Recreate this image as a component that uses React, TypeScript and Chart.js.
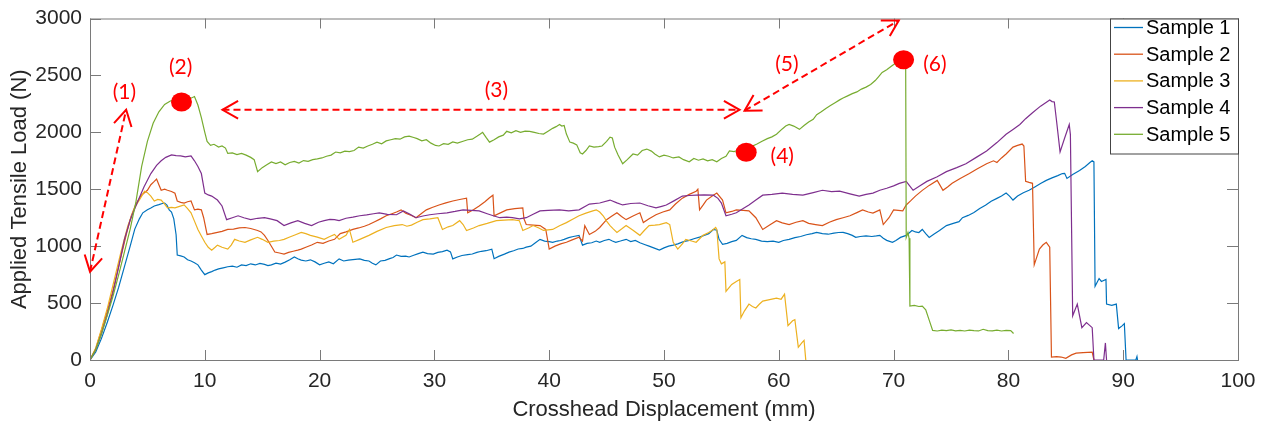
import React, { useEffect, useRef } from "react";
import { Chart, registerables } from "chart.js";

Chart.register(...registerables);

const FONT = "'Liberation Sans', Arial, sans-serif";
const LABEL_FONT = "Lato, 'Open Sans', sans-serif";

const seriesNames = ["Sample 1", "Sample 2", "Sample 3", "Sample 4", "Sample 5"];
const seriesColors = ["#0072BD", "#D95319", "#EDB120", "#7E2F8E", "#77AC30"];

const xTickValues = [0, 10, 20, 30, 40, 50, 60, 70, 80, 90, 100];
const yTickValues = [0, 500, 1000, 1500, 2000, 2500, 3000];

const sample1: number[][] = [
  [0, 0], [0.5, 70], [1, 190], [1.5, 330], [2, 480], [2.5, 640], [3, 820], [3.5, 1000], [3.9, 1150], [4.3, 1240],
  [4.6, 1293], [5, 1320], [5.3, 1335], [5.6, 1353], [6, 1365], [6.3, 1375], [6.5, 1379], [6.7, 1360], [6.9, 1319],
  [7.1, 1300], [7.3, 1240], [7.5, 1100], [7.6, 922], [7.9, 915], [8.2, 905], [8.5, 880], [8.8, 870], [9.1, 855],
  [9.4, 836], [9.7, 790], [10, 750], [10.3, 765], [10.6, 776], [10.9, 790], [11.2, 800], [11.6, 810], [12, 819],
  [12.4, 825], [12.8, 815], [13.2, 835], [13.6, 830], [14, 845], [14.4, 835], [14.8, 848], [15.2, 840], [15.5, 830],
  [15.8, 836], [16.2, 850], [16.6, 842], [17, 860], [17.4, 880], [17.8, 905], [18.1, 890], [18.4, 878], [18.8, 870],
  [19.2, 880], [19.6, 862], [20, 836], [20.4, 850], [20.8, 862], [21.2, 845], [21.7, 888], [22.1, 870], [22.5, 878],
  [22.9, 882], [23.5, 888], [23.9, 875], [24.3, 870], [24.6, 850], [24.9, 836], [25.3, 870], [25.7, 875], [26.1, 890],
  [26.4, 900], [26.7, 922], [27.1, 910], [27.5, 912], [27.8, 905], [28.2, 920], [28.6, 935], [29, 948], [29.4, 935],
  [29.9, 930], [30.3, 945], [30.7, 952], [31.1, 965], [31.4, 950], [31.6, 888], [32, 905], [32.4, 918], [32.9, 925],
  [33.3, 931], [33.7, 945], [34.1, 955], [34.5, 960], [35, 974], [35.2, 890], [35.6, 910], [36.1, 930], [36.5, 948],
  [36.9, 960], [37.3, 975], [37.7, 980], [38, 991], [38.4, 1000], [38.8, 1030], [39.2, 1060], [39.6, 1045], [40, 1040],
  [40.3, 1034], [40.7, 1045], [41, 1050], [41.3, 1060], [41.7, 1075], [42.1, 1085], [42.6, 1095], [42.9, 1009],
  [43.3, 1025], [43.7, 1030], [44.1, 1045], [44.4, 1034], [44.8, 1050], [45.2, 1060], [45.5, 1045], [45.8, 1034],
  [46.2, 1045], [46.7, 1060], [47.1, 1040], [47.5, 1050], [47.9, 1030], [48.3, 1015], [48.7, 1000], [49.1, 985],
  [49.6, 965], [50, 985], [50.4, 1000], [50.8, 1009], [51.2, 1020], [51.7, 1040], [52.2, 1051], [52.6, 1065],
  [53.1, 1080], [53.5, 1095], [53.9, 1110], [54.3, 1147], [54.6, 1140], [54.8, 1060], [55.1, 1017], [55.5, 1025],
  [55.9, 1040], [56.3, 1051], [56.8, 1095], [57.2, 1075], [57.6, 1065], [58, 1060], [58.5, 1045], [59, 1040],
  [59.5, 1045], [60, 1034], [60.4, 1050], [60.9, 1060], [61.4, 1075], [61.9, 1085], [62.4, 1100], [62.9, 1110],
  [63.3, 1121], [63.8, 1110], [64.3, 1105], [64.8, 1115], [65.2, 1120], [65.6, 1121], [66, 1110], [66.4, 1095],
  [66.7, 1078], [67.1, 1085], [67.6, 1090], [68.1, 1085], [68.5, 1090], [68.8, 1095], [69.1, 1070], [69.4, 1051],
  [69.9, 1034], [70.2, 1050], [70.6, 1077], [71.1, 1095], [71.6, 1138], [71.9, 1125], [72.2, 1120], [72.5, 1147],
  [72.8, 1110], [73.1, 1077], [73.5, 1105], [74, 1138], [74.6, 1181], [75.2, 1200], [75.7, 1215], [76, 1250],
  [76.5, 1270], [77, 1295], [77.5, 1330], [78, 1360], [78.5, 1395], [79, 1420], [79.4, 1440], [79.8, 1466],
  [80.1, 1440], [80.4, 1405], [80.8, 1440], [81.3, 1470], [81.8, 1491], [82.3, 1520], [82.8, 1550], [83.3, 1578],
  [83.8, 1600], [84.3, 1620], [84.7, 1638], [84.9, 1640], [85.1, 1595], [85.6, 1630], [86.2, 1664], [86.7, 1700],
  [87.1, 1735], [87.3, 1750], [87.45, 1740], [87.55, 647], [87.9, 716], [88.1, 690], [88.5, 707], [88.55, 491],
  [89, 480], [89.4, 491], [89.6, 276], [89.9, 300], [90.1, 319], [90.25, 0], [91.1, 0], [91.2, 30], [91.25, 0],
];

const sample2: number[][] = [
  [0, 0], [0.5, 100], [1, 260], [1.5, 430], [2, 610], [2.4, 780], [2.8, 950], [3.2, 1120], [3.6, 1267], [4, 1370],
  [4.5, 1450], [5, 1491], [5.3, 1540], [5.6, 1569], [5.8, 1590], [6, 1540], [6.2, 1491], [6.5, 1500], [6.75, 1491],
  [7.1, 1480], [7.4, 1465], [7.6, 1397], [7.9, 1385], [8.2, 1379], [8.5, 1390], [8.8, 1397], [9.1, 1319], [9.4, 1325],
  [9.7, 1319], [9.9, 1250], [10.2, 1103], [10.6, 1110], [11.1, 1121], [11.5, 1130], [12, 1147], [12.5, 1150],
  [13, 1160], [13.5, 1164], [14, 1155], [14.6, 1138], [14.9, 1125], [15.2, 1095], [15.5, 1050], [16.1, 948],
  [16.5, 940], [16.9, 931], [17.3, 945], [17.7, 955], [18.1, 965], [18.4, 974], [18.8, 990], [19.3, 1010],
  [19.8, 1034], [20.3, 1025], [20.8, 1045], [21.3, 1060], [21.8, 1110], [22.3, 1125], [22.9, 1147], [23.4, 1160],
  [23.9, 1175], [24.3, 1190], [24.8, 1215], [25.3, 1240], [25.8, 1267], [26.3, 1285], [26.7, 1300], [27.1, 1319],
  [27.5, 1290], [28, 1270], [28.4, 1250], [28.9, 1290], [29.3, 1319], [29.8, 1340], [30.4, 1362], [31, 1380],
  [31.6, 1397], [32.2, 1410], [32.8, 1422], [32.9, 1293], [33.4, 1320], [33.9, 1353], [34.4, 1390], [34.8, 1425],
  [35.1, 1448], [35.2, 1267], [35.7, 1290], [36.3, 1319], [37, 1330], [37.7, 1336], [37.8, 1240], [38, 1190],
  [38.6, 1185], [39.2, 1181], [39.7, 1147], [40, 974], [40.5, 1000], [41, 1020], [41.5, 1034], [42, 1055],
  [42.6, 1078], [42.9, 1045], [43.1, 1180], [43.5, 1103], [44, 1130], [44.4, 1164], [45, 1233], [45.4, 1260],
  [45.9, 1293], [46.3, 1260], [46.7, 1233], [47.3, 1265], [47.9, 1293], [48.2, 1207], [48.7, 1240], [49.3, 1276],
  [49.9, 1300], [50.5, 1319], [51, 1370], [51.6, 1422], [52.2, 1455], [52.8, 1483], [52.95, 1500], [53.1, 1319],
  [53.4, 1360], [53.7, 1405], [54.2, 1440], [54.6, 1466], [55.1, 1405], [55.4, 1293], [55.9, 1305], [56.3, 1319],
  [56.9, 1315], [57.4, 1310], [58, 1250], [58.6, 1147], [59.2, 1185], [59.8, 1224], [60.3, 1205], [60.9, 1190],
  [61.5, 1210], [62.1, 1224], [62.6, 1200], [63.2, 1190], [63.8, 1181], [64.4, 1210], [65, 1233], [65.6, 1250],
  [66.2, 1267], [66.8, 1295], [67.3, 1319], [67.8, 1300], [68.2, 1290], [68.8, 1319], [69.1, 1190], [69.6, 1250],
  [70, 1319], [70.4, 1315], [70.8, 1310], [71.1, 1362], [71.5, 1400], [71.9, 1440], [72.5, 1490], [73.1, 1534],
  [73.8, 1578], [74.3, 1491], [74.7, 1520], [75.1, 1552], [75.8, 1595], [76.6, 1638], [77.3, 1680], [78.1, 1724],
  [78.7, 1750], [79, 1735], [79.4, 1775], [79.8, 1810], [80.4, 1870], [80.8, 1885], [81.2, 1897], [81.35, 1880],
  [81.5, 1570], [81.8, 1560], [82.1, 1552], [82.25, 836], [82.7, 974], [83, 1010], [83.3, 1034], [83.6, 991],
  [83.75, 26], [84.2, 30], [84.6, 26], [85, 15], [85.5, 45], [85.9, 60], [86.5, 65], [87.3, 69], [87.45, 0],
];

const sample3: number[][] = [
  [0, 0], [0.5, 105], [1, 270], [1.5, 450], [2.1, 700], [2.7, 950], [3.3, 1181], [3.9, 1340], [4.5, 1440],
  [4.75, 1483], [5, 1470], [5.3, 1440], [5.6, 1397], [5.9, 1410], [6.2, 1405], [6.5, 1370], [6.75, 1336], [7.1, 1340],
  [7.4, 1336], [7.8, 1350], [8.2, 1362], [8.5, 1330], [8.8, 1293], [9.1, 1220], [9.4, 1147], [9.7, 1090], [10, 1034],
  [10.3, 990], [10.6, 965], [10.9, 990], [11.1, 1009], [11.5, 990], [12, 974], [12.3, 1010], [12.6, 1060],
  [13, 1045], [13.5, 1034], [14, 1055], [14.6, 1078], [15, 1060], [15.5, 1034], [16, 1045], [16.5, 1050],
  [16.9, 1060], [17.4, 1080], [17.9, 1100], [18.4, 1121], [18.8, 1110], [19.2, 1095], [19.8, 1080], [20.4, 1060],
  [20.8, 1080], [21.3, 1103], [21.7, 1060], [22.3, 1095], [22.6, 1147], [22.9, 1034], [23.5, 1060], [24.3, 1095],
  [25, 1130], [25.8, 1164], [26.5, 1180], [27.2, 1190], [27.6, 1175], [28, 1185], [28.5, 1210], [29, 1233],
  [29.6, 1240], [30.3, 1250], [30.7, 1147], [31.2, 1170], [31.6, 1181], [32.2, 1224], [32.5, 1190], [32.8, 1138],
  [33.4, 1160], [33.9, 1181], [34.6, 1200], [35.4, 1224], [36.1, 1228], [36.8, 1233], [37.4, 1224], [37.7, 1138],
  [38.2, 1160], [38.6, 1181], [39.1, 1160], [39.5, 1138], [40.3, 1147], [40.9, 1180], [41.5, 1207], [42, 1235],
  [42.6, 1267], [43.2, 1290], [43.8, 1310], [44.1, 1319], [44.4, 1300], [44.7, 1267], [45, 1220], [45.3, 1181],
  [45.6, 1150], [45.9, 1121], [46.3, 1150], [46.7, 1181], [47.3, 1140], [47.9, 1095], [48.3, 1140], [48.7, 1181],
  [49.2, 1185], [49.6, 1190], [50.2, 1207], [50.5, 1190], [50.8, 1034], [51.2, 974], [51.6, 1020], [51.9, 1060],
  [52.4, 1045], [52.8, 1034], [53.4, 1095], [53.9, 1120], [54.3, 1147], [54.5, 1164], [54.6, 1147], [54.8, 888],
  [55, 845], [55.3, 862], [55.4, 603], [55.9, 664], [56.3, 690], [56.6, 707], [56.7, 371], [57, 430], [57.4, 491],
  [57.7, 470], [58, 457], [58.3, 490], [58.6, 517], [59.2, 530], [59.8, 543], [60.2, 534], [60.5, 578], [60.8, 302],
  [61.2, 345], [61.4, 355], [61.7, 112], [62, 150], [62.2, 172], [62.35, 0],
];

const sample4: number[][] = [
  [0, 0], [0.5, 90], [1, 230], [1.5, 400], [2, 590], [2.5, 820], [3, 1060], [3.5, 1230], [4.1, 1379], [4.7, 1520],
  [5.3, 1638], [5.8, 1710], [6.2, 1750], [6.6, 1780], [7.1, 1802], [7.5, 1795], [7.9, 1793], [8.3, 1785], [8.8, 1793],
  [9.1, 1750], [9.4, 1700], [9.7, 1638], [10, 1466], [10.3, 1450], [10.6, 1440], [11.1, 1405], [11.5, 1353],
  [11.9, 1233], [12.4, 1250], [12.9, 1267], [13.4, 1250], [14, 1233], [14.6, 1245], [15.2, 1250], [15.7, 1240],
  [16.3, 1224], [16.9, 1181], [17.5, 1205], [18.1, 1224], [18.7, 1200], [19.3, 1181], [19.9, 1210], [20.4, 1224],
  [20.9, 1235], [21.3, 1233], [21.7, 1225], [22.3, 1245], [22.9, 1255], [23.5, 1267], [24.1, 1275], [24.7, 1285],
  [25.2, 1293], [25.9, 1280], [26.7, 1276], [27.3, 1310], [27.8, 1285], [28.4, 1250], [29, 1265], [29.6, 1276],
  [30.3, 1285], [31.1, 1293], [31.8, 1305], [32.5, 1319], [33.2, 1315], [33.9, 1310], [34.6, 1285], [35.2, 1265],
  [35.7, 1250], [36.3, 1255], [36.8, 1250], [37.4, 1240], [38, 1250], [38.6, 1280], [39.2, 1310], [39.9, 1315],
  [40.9, 1319], [41.7, 1310], [42.6, 1319], [43.5, 1370], [44.4, 1379], [45.3, 1405], [45.9, 1380], [46.4, 1362],
  [47.1, 1375], [47.9, 1379], [48.6, 1355], [49.3, 1336], [49.8, 1350], [50.2, 1362], [50.9, 1400], [51.6, 1440],
  [52.2, 1445], [52.8, 1448], [53.5, 1450], [54.3, 1448], [54.7, 1420], [55, 1379], [55.4, 1267], [55.9, 1280],
  [56.3, 1293], [56.9, 1330], [57.4, 1362], [58, 1405], [58.6, 1448], [59.4, 1455], [60.3, 1466], [61.2, 1455],
  [62.1, 1448], [63, 1470], [63.8, 1491], [64.6, 1480], [65.3, 1483], [66.2, 1460], [67, 1440], [67.6, 1455],
  [68.2, 1466], [68.8, 1491], [69.4, 1509], [70, 1530], [70.5, 1552], [71.1, 1569], [71.4, 1530], [71.7, 1491],
  [72.3, 1530], [72.9, 1569], [73.8, 1610], [74.6, 1655], [75.5, 1690], [76.3, 1724], [77.2, 1780], [78.1, 1836],
  [79, 1910], [79.8, 1983], [80.4, 2025], [81, 2069], [81.5, 2120], [82.1, 2172], [82.8, 2230], [83.6, 2284],
  [83.8, 2270], [84, 2267], [84.2, 2095], [84.5, 1828], [84.9, 1950], [85.3, 2069], [85.4, 1980], [85.6, 388],
  [86, 491], [86.4, 284], [86.8, 328], [87.3, 284], [87.45, 0], [88.3, 0], [88.45, 150], [88.55, 0],
];

const sample5: number[][] = [
  [0, 0], [0.5, 90], [1, 230], [1.5, 390], [2, 560], [2.5, 750], [3, 950], [3.5, 1150], [4, 1390], [4.5, 1700],
  [5, 1920], [5.5, 2080], [6, 2180], [6.5, 2245], [7, 2275], [7.5, 2290], [8, 2300], [8.5, 2320], [8.8, 2300],
  [9.1, 2315], [9.4, 2240], [9.7, 2130], [10, 2000], [10.2, 1920], [10.5, 1885], [10.8, 1895], [11.2, 1870],
  [11.5, 1880], [11.8, 1862], [12, 1815], [12.4, 1820], [12.8, 1805], [13.2, 1815], [13.6, 1800], [14, 1780],
  [14.3, 1760], [14.6, 1655], [15, 1690], [15.4, 1715], [15.8, 1740], [16.2, 1725], [16.6, 1740], [17, 1715],
  [17.4, 1735], [17.8, 1745], [18.2, 1730], [18.6, 1752], [19, 1745], [19.4, 1760], [19.8, 1767], [20.2, 1775],
  [20.6, 1790], [21, 1800], [21.4, 1827], [21.8, 1820], [22.2, 1835], [22.6, 1830], [23, 1840], [23.4, 1870],
  [23.8, 1862], [24.2, 1880], [24.6, 1895], [25, 1914], [25.4, 1900], [25.8, 1925], [26.2, 1935], [26.6, 1945],
  [27, 1940], [27.4, 1960], [27.8, 1966], [28.2, 1955], [28.5, 1945], [28.9, 1925], [29.3, 1935], [29.7, 1905],
  [30.1, 1885], [30.4, 1880], [30.8, 1900], [31.2, 1895], [31.6, 1915], [32, 1905], [32.5, 1922], [32.9, 1935],
  [33.3, 1940], [33.7, 1965], [34, 1985], [34.2, 2000], [34.5, 1955], [34.8, 1914], [35.2, 1935], [35.6, 1960],
  [36, 1975], [36.3, 2009], [36.7, 1995], [37.1, 2015], [37.5, 2000], [37.9, 2010], [38.3, 2009], [38.7, 2000],
  [39.1, 1990], [39.5, 1985], [39.9, 2010], [40.3, 2035], [40.6, 2050], [40.9, 2069], [41.1, 2055], [41.3, 2060],
  [41.5, 1985], [41.8, 1914], [42.1, 1905], [42.4, 1890], [42.7, 1820], [42.9, 1810], [43.2, 1840], [43.5, 1880],
  [43.9, 1870], [44.3, 1875], [44.6, 1880], [45, 1920], [45.3, 1957], [45.5, 1950], [45.7, 1870], [46, 1800],
  [46.4, 1724], [46.8, 1760], [47.3, 1810], [47.7, 1800], [48.1, 1840], [48.5, 1853], [48.9, 1835], [49.2, 1810],
  [49.6, 1784], [50, 1800], [50.4, 1790], [50.8, 1775], [51.3, 1784], [51.7, 1760], [52.2, 1741], [52.6, 1770],
  [53, 1755], [53.4, 1767], [53.8, 1750], [54.2, 1760], [54.6, 1741], [55, 1770], [55.4, 1790], [55.7, 1836],
  [56.1, 1830], [56.5, 1845], [57, 1850], [57.5, 1870], [58.1, 1897], [58.5, 1920], [59, 1945], [59.4, 1960],
  [59.8, 1983], [60.3, 2030], [60.6, 2055], [60.9, 2069], [61.3, 2055], [61.8, 2026], [62.2, 2060], [62.6, 2090],
  [63, 2115], [63.3, 2155], [63.7, 2180], [64.1, 2210], [64.5, 2235], [64.9, 2260], [65.3, 2285], [65.6, 2301],
  [66, 2320], [66.4, 2340], [66.8, 2355], [67.2, 2380], [67.6, 2397], [68, 2420], [68.4, 2455], [68.7, 2490],
  [69, 2526], [69.4, 2550], [69.8, 2580], [70.1, 2603], [70.5, 2625], [70.9, 2645], [71.05, 2650], [71.1, 1077],
  [71.25, 1120], [71.35, 1070], [71.42, 474], [71.8, 480], [72.2, 470], [72.5, 474], [72.8, 440], [73.1, 350],
  [73.4, 260], [73.8, 255], [74.2, 262], [74.6, 258], [75, 264], [75.4, 256], [75.8, 260], [76.2, 255], [76.6, 262],
  [77, 258], [77.4, 255], [77.8, 270], [78.2, 258], [78.6, 256], [79, 262], [79.4, 255], [79.8, 260], [80.2, 258],
  [80.45, 233],
];

const seriesData = [sample1, sample2, sample3, sample4, sample5];

// annotations (data units)
const markerPoints: number[][] = [[7.97, 2267], [57.16, 1825], [70.87, 2638]];
const stageLabels = ["(1)", "(2)", "(3)", "(4)", "(5)", "(6)"];
const stageLabelPos: number[][] = [[3.0, 2353], [7.89, 2573], [35.4, 2371], [60.3, 1793], [60.7, 2595], [73.6, 2595]];
const arrowSegments: number[][][] = [
  [[0.0, 776], [3.15, 2198]],
  [[11.54, 2198], [56.58, 2198]],
  [[57.02, 2190], [70.45, 2983]],
];

const overlayPlugin = {
  id: "overlay",
  afterDraw(chart: any) {
    const { ctx, chartArea: a, scales } = chart;
    const xs = scales.x;
    const ys = scales.y;
    ctx.save();
    // frame
    ctx.strokeStyle = "#7a7a7a";
    ctx.lineWidth = 1;
    ctx.setLineDash([]);
    ctx.strokeRect(a.left + 0.5, a.top + 0.5, a.right - a.left, a.bottom - a.top);
    // inward ticks
    ctx.beginPath();
    for (const v of xTickValues) {
      const px = Math.round(xs.getPixelForValue(v)) + 0.5;
      ctx.moveTo(px, a.bottom);
      ctx.lineTo(px, a.bottom - 10);
      ctx.moveTo(px, a.top);
      ctx.lineTo(px, a.top + 10);
    }
    for (const v of yTickValues) {
      const py = Math.round(ys.getPixelForValue(v)) + 0.5;
      ctx.moveTo(a.left, py);
      ctx.lineTo(a.left + 11, py);
      ctx.moveTo(a.right, py);
      ctx.lineTo(a.right - 11, py);
    }
    ctx.stroke();

    // legend box
    const lx = 1110.5;
    const ly = a.top + 0.5;
    const lw = a.right - 1110;
    const lh = 135;
    ctx.fillStyle = "#ffffff";
    ctx.fillRect(lx, ly, lw, lh);
    ctx.strokeStyle = "#444444";
    ctx.strokeRect(lx, ly, lw, lh);
    ctx.font = `20px ${FONT}`;
    ctx.textBaseline = "middle";
    ctx.textAlign = "left";
    seriesNames.forEach((name, i) => {
      const cy = 27.5 + i * 26.7;
      ctx.strokeStyle = seriesColors[i];
      ctx.lineWidth = 1.3;
      ctx.beginPath();
      ctx.moveTo(1114, cy);
      ctx.lineTo(1143, cy);
      ctx.stroke();
      ctx.fillStyle = "#000000";
      ctx.fillText(name, 1146, cy + 1);
    });

    // arrows
    ctx.strokeStyle = "#ff0000";
    ctx.lineWidth = 2;
    const head = (tx: number, ty: number, fx: number, fy: number) => {
      const ang = Math.atan2(ty - fy, tx - fx);
      const len = 18;
      const spread = 0.52;
      ctx.setLineDash([]);
      ctx.beginPath();
      ctx.moveTo(tx - len * Math.cos(ang - spread), ty - len * Math.sin(ang - spread));
      ctx.lineTo(tx, ty);
      ctx.lineTo(tx - len * Math.cos(ang + spread), ty - len * Math.sin(ang + spread));
      ctx.stroke();
    };
    for (const seg of arrowSegments) {
      const x1 = xs.getPixelForValue(seg[0][0]);
      const y1 = ys.getPixelForValue(seg[0][1]);
      const x2 = xs.getPixelForValue(seg[1][0]);
      const y2 = ys.getPixelForValue(seg[1][1]);
      ctx.setLineDash([7, 4]);
      ctx.beginPath();
      ctx.moveTo(x1, y1);
      ctx.lineTo(x2, y2);
      ctx.stroke();
      head(x1, y1, x2, y2);
      head(x2, y2, x1, y1);
    }
    // markers
    ctx.fillStyle = "#ff0000";
    for (const p of markerPoints) {
      const px = xs.getPixelForValue(p[0]);
      const py = ys.getPixelForValue(p[1]);
      ctx.beginPath();
      ctx.ellipse(px, py, 10.5, 9.5, 0, 0, Math.PI * 2);
      ctx.fill();
    }
    // labels
    ctx.font = `21px ${LABEL_FONT}`;
    ctx.textAlign = "center";
    ctx.textBaseline = "middle";
    stageLabels.forEach((t, i) => {
      const p = stageLabelPos[i];
      ctx.fillText(t, xs.getPixelForValue(p[0]), ys.getPixelForValue(p[1]));
    });
    ctx.restore();
  },
};

export default function App() {
  const ref = useRef<HTMLCanvasElement | null>(null);
  useEffect(() => {
    if (!ref.current) return;
    const chart = new Chart(ref.current, {
      type: "line",
      data: {
        datasets: seriesData.map((d, i) => ({
          label: seriesNames[i],
          data: d.map((p) => ({ x: p[0], y: p[1] })),
          borderColor: seriesColors[i],
          backgroundColor: seriesColors[i],
          borderWidth: 1.2,
          pointRadius: 0,
          tension: 0,
          fill: false,
          order: 4 - i,
        })),
      },
      options: {
        responsive: false,
        animation: false,
        devicePixelRatio: 1,
        layout: { padding: { left: 0, right: 29, top: 12, bottom: 0 } },
        plugins: { legend: { display: false }, tooltip: { enabled: false } },
        scales: {
          x: {
            type: "linear",
            min: 0,
            max: 100,
            afterFit: (s: any) => {
              s.height = 67;
            },
            grid: { display: false, drawTicks: false },
            border: { display: false },
            ticks: {
              stepSize: 10,
              autoSkip: false,
              maxRotation: 0,
              padding: 10.5,
              color: "#262626",
              font: { family: FONT, size: 21, lineHeight: 1 },
              callback: (v: any) => String(v),
            },
            title: {
              display: true,
              text: "Crosshead Displacement (mm)",
              color: "#262626",
              font: { family: FONT, size: 22 },
              padding: { top: 0, bottom: 4 },
            },
          },
          y: {
            type: "linear",
            min: 0,
            max: 3000,
            afterFit: (s: any) => {
              s.width = 90;
            },
            grid: { display: false, drawTicks: false },
            border: { display: false },
            ticks: {
              stepSize: 500,
              autoSkip: false,
              padding: 8,
              color: "#262626",
              font: { family: FONT, size: 21, lineHeight: 1 },
              callback: (v: any) => String(v),
            },
            title: {
              display: true,
              text: "Applied Tensile Load (N)",
              color: "#262626",
              font: { family: FONT, size: 22 },
              padding: { top: 7, bottom: 0 },
            },
          },
        },
      },
      plugins: [overlayPlugin],
    });
    return () => chart.destroy();
  }, []);
  return (
    <canvas
      ref={ref}
      width={1267}
      height={427}
      style={{ position: "fixed", left: 0, top: 0, width: 1267, height: 427, display: "block" }}
    />
  );
}
